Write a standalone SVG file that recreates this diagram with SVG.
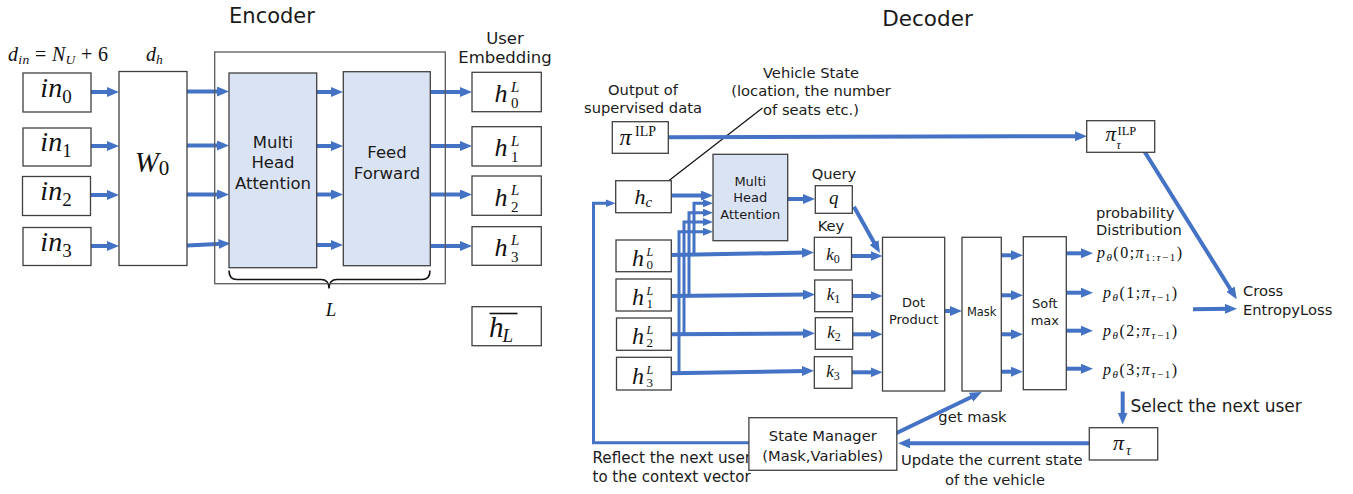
<svg xmlns="http://www.w3.org/2000/svg" width="1353" height="494" viewBox="0 0 1353 494">
  <defs>
    <style>
      .box { fill: #ffffff; stroke: #404040; stroke-width: 1.3; }
      .blk { fill: #dae3f3; stroke: #404040; stroke-width: 1.3; }
      .frame { fill: none; stroke: #5a5a5a; stroke-width: 1.3; }
      .lbl { font-family: "DejaVu Sans", "Noto Sans", sans-serif; font-size: 14.7px; fill: #1a1a1a; }
      .m { font-family: "Liberation Serif", "DejaVu Serif", serif; font-style: italic; fill: #111111; }
      .up { font-style: normal; }
      .c4 { stroke: #4472c4; stroke-width: 4; fill: none; marker-end: url(#ah); }
      .c3 { stroke: #4472c4; stroke-width: 3; fill: none; marker-end: url(#as); }
    </style>
    <!-- arrowhead for the thick connectors: tip lies 8px beyond the line end -->
    <marker id="ah" markerUnits="userSpaceOnUse" markerWidth="12" markerHeight="10" refX="4" refY="5" orient="auto">
      <path d="M0,0 L12,5 L0,10 z" fill="#4472c4"/>
    </marker>
    <!-- arrowhead for the thin connectors: tip lies 7px beyond the line end -->
    <marker id="as" markerUnits="userSpaceOnUse" markerWidth="10" markerHeight="8" refX="3" refY="4" orient="auto">
      <path d="M0,0 L10,4 L0,8 z" fill="#4472c4"/>
    </marker>
  </defs>

  <rect width="1353" height="494" fill="#ffffff"/>

  <!-- free labels -->
  <g id="labels">
    <text class="lbl" x="272" y="23" text-anchor="middle" style="font-size:21px">Encoder</text>
    <text class="lbl" x="927.5" y="25.5" text-anchor="middle" style="font-size:21.5px">Decoder</text>
    <text class="m up" x="8" y="61" font-size="20" textLength="100" lengthAdjust="spacing"><tspan class="m">d</tspan><tspan class="m" font-size="13.5" dy="3">in</tspan><tspan dy="-3"> = </tspan><tspan class="m">N</tspan><tspan class="m" font-size="13.5" dy="3">U</tspan><tspan dy="-3"> + 6</tspan></text>
    <text class="m" x="146" y="61" font-size="20">d<tspan font-size="13.5" dy="3">h</tspan></text>
    <text class="lbl" x="505" y="43.5" text-anchor="middle" style="font-size:16.5px">User</text>
    <text class="lbl" x="505" y="62.5" text-anchor="middle" style="font-size:16.5px">Embedding</text>
    <!-- layer-count brace -->
    <path d="M229,270.5 Q229,279.5 237,279.5 L321,279.5 Q329,279.5 329,288.5 Q329,279.5 337,279.5 L422,279.5 Q430,279.5 430,270.5" fill="none" stroke="#111" stroke-width="1.6"/>
    <text class="m" x="331" y="316" font-size="19" text-anchor="middle">L</text>

    <text class="lbl" x="643" y="94.5" text-anchor="middle">Output of</text>
    <text class="lbl" x="643" y="112.5" text-anchor="middle">supervised data</text>
    <text class="lbl" x="811" y="78" text-anchor="middle">Vehicle State</text>
    <text class="lbl" x="811" y="96" text-anchor="middle">(location, the number</text>
    <text class="lbl" x="811" y="114.5" text-anchor="middle">of seats etc.)</text>
    <line x1="660" y1="187.5" x2="762.5" y2="108" stroke="#111" stroke-width="1.2"/>
    <text class="lbl" x="834" y="179" text-anchor="middle">Query</text>
    <text class="lbl" x="831" y="230.5" text-anchor="middle">Key</text>
    <text class="lbl" x="1096" y="217.5">probability</text>
    <text class="lbl" x="1096" y="235">Distribution</text>
    <text class="lbl" x="1243" y="296">Cross</text>
    <text class="lbl" x="1243" y="314.5">EntropyLoss</text>
    <text class="lbl" x="1130.5" y="411.5" style="font-size:17px">Select the next user</text>
    <text class="lbl" x="972.5" y="421.5" text-anchor="middle">get mask</text>
    <text class="lbl" x="991.7" y="465" text-anchor="middle">Update the current state</text>
    <text class="lbl" x="995" y="484.5" text-anchor="middle">of the vehicle</text>
    <text class="lbl" x="592.5" y="462.5" style="font-size:15.2px">Reflect the next user</text>
    <text class="lbl" x="592.5" y="482" style="font-size:15px">to the context vector</text>

    <!-- probability outputs -->
    <text class="m up" x="1097" y="258" font-size="16" textLength="85" lengthAdjust="spacing"><tspan class="m">p</tspan><tspan class="m" font-size="11" dy="3">θ</tspan><tspan dy="-3">(0;</tspan><tspan class="m">π</tspan><tspan font-size="11" dy="3">1:</tspan><tspan class="m" font-size="11">τ</tspan><tspan font-size="11">−1</tspan><tspan dy="-3">)</tspan></text>
    <text class="m up" x="1103" y="297.5" font-size="16" textLength="74" lengthAdjust="spacing"><tspan class="m">p</tspan><tspan class="m" font-size="11" dy="3">θ</tspan><tspan dy="-3">(1;</tspan><tspan class="m">π</tspan><tspan class="m" font-size="11" dy="3">τ</tspan><tspan font-size="11">−1</tspan><tspan dy="-3">)</tspan></text>
    <text class="m up" x="1103" y="335.5" font-size="16" textLength="74" lengthAdjust="spacing"><tspan class="m">p</tspan><tspan class="m" font-size="11" dy="3">θ</tspan><tspan dy="-3">(2;</tspan><tspan class="m">π</tspan><tspan class="m" font-size="11" dy="3">τ</tspan><tspan font-size="11">−1</tspan><tspan dy="-3">)</tspan></text>
    <text class="m up" x="1103" y="375" font-size="16" textLength="74" lengthAdjust="spacing"><tspan class="m">p</tspan><tspan class="m" font-size="11" dy="3">θ</tspan><tspan dy="-3">(3;</tspan><tspan class="m">π</tspan><tspan class="m" font-size="11" dy="3">τ</tspan><tspan font-size="11">−1</tspan><tspan dy="-3">)</tspan></text>
  </g>

  <!-- connectors -->
  <g id="connectors">
    <!-- encoder: inputs to W0 -->
    <line class="c4" x1="91" y1="92" x2="111" y2="92"/>
    <line class="c4" x1="91" y1="146" x2="111" y2="146"/>
    <line class="c4" x1="91" y1="195" x2="111" y2="195"/>
    <line class="c4" x1="91" y1="246" x2="111" y2="246"/>
    <!-- W0 to attention -->
    <line class="c4" x1="187" y1="91.5" x2="221" y2="91.5"/>
    <line class="c4" x1="187" y1="145.5" x2="221" y2="145.5"/>
    <line class="c4" x1="187" y1="194.5" x2="221" y2="194.5"/>
    <line class="c4" x1="187" y1="245.5" x2="222.5" y2="243.8"/>
    <!-- attention to feed forward -->
    <line class="c4" x1="317" y1="92" x2="335" y2="92"/>
    <line class="c4" x1="317" y1="146" x2="335" y2="146"/>
    <line class="c4" x1="317" y1="194.5" x2="335" y2="194.5"/>
    <line class="c4" x1="317" y1="245" x2="335" y2="245"/>
    <!-- feed forward to embeddings -->
    <line class="c4" x1="430" y1="92" x2="464" y2="92"/>
    <line class="c4" x1="430" y1="146" x2="464" y2="146"/>
    <line class="c4" x1="430" y1="194.5" x2="464" y2="194.5"/>
    <line class="c4" x1="430" y1="246" x2="464" y2="246"/>

    <!-- decoder: supervised target -->
    <line class="c4" x1="668" y1="137.3" x2="1079" y2="136.2"/>
    <line class="c4" x1="1144" y1="150.7" x2="1232.5" y2="292.5"/>
    <line class="c4" x1="1193" y1="309.2" x2="1229" y2="308.8"/>
    <!-- context and query -->
    <line class="c4" x1="671" y1="195.5" x2="705" y2="195.5"/>
    <line class="c4" x1="788" y1="199" x2="807" y2="199"/>
    <line class="c4" x1="854" y1="206.7" x2="876" y2="246"/>
    <!-- embeddings to keys -->
    <line class="c4" x1="671" y1="255" x2="806" y2="252.6"/>
    <line class="c4" x1="671" y1="296" x2="807" y2="294.6"/>
    <line class="c4" x1="671" y1="334.3" x2="807" y2="333.4"/>
    <line class="c4" x1="671" y1="373.3" x2="806" y2="370.9"/>
    <!-- embeddings into decoder attention -->
    <path class="c3" d="M694,255 V203.3 H706"/>
    <path class="c3" d="M689,296 V212.7 H706"/>
    <path class="c3" d="M684,334.3 V222 H706"/>
    <path class="c3" d="M679,373.3 V231.7 H706"/>
    <!-- keys to dot product -->
    <line class="c4" x1="852" y1="256" x2="874.5" y2="256"/>
    <line class="c4" x1="852" y1="296" x2="874.5" y2="296"/>
    <line class="c4" x1="852" y1="334.3" x2="874.5" y2="334.3"/>
    <line class="c4" x1="852" y1="372.3" x2="874.5" y2="372.3"/>
    <line class="c4" x1="945" y1="311" x2="954" y2="311"/>
    <!-- mask to softmax -->
    <line class="c4" x1="1001" y1="255.3" x2="1015" y2="255.3"/>
    <line class="c4" x1="1001" y1="295.3" x2="1015" y2="295.3"/>
    <line class="c4" x1="1001" y1="334.3" x2="1015" y2="334.3"/>
    <line class="c4" x1="1001" y1="371.7" x2="1015" y2="371.7"/>
    <!-- softmax to probabilities -->
    <line class="c4" x1="1066" y1="253.3" x2="1085" y2="253.3"/>
    <line class="c4" x1="1066" y1="292.7" x2="1085" y2="292.7"/>
    <line class="c4" x1="1066" y1="330.7" x2="1085" y2="330.7"/>
    <line class="c4" x1="1066" y1="368.7" x2="1085" y2="368.7"/>
    <!-- selection loop -->
    <line class="c4" x1="1122.7" y1="391.5" x2="1122.7" y2="416.5"/>
    <line class="c4" x1="1089" y1="443.3" x2="906" y2="443.3"/>
    <line class="c4" x1="894" y1="434.3" x2="974.6" y2="395.5"/>
    <path class="c3" d="M749,442.7 H593.5 V203.3 H608.5"/>
  </g>

  <!-- encoder nodes -->
  <g id="in0"><rect class="box" x="23" y="73" width="68" height="39"/>
    <text class="m" x="56" y="97" font-size="28" text-anchor="middle">in<tspan class="up" font-size="19" dy="6">0</tspan></text></g>
  <g id="in1"><rect class="box" x="23" y="128" width="68" height="38"/>
    <text class="m" x="56" y="151" font-size="28" text-anchor="middle">in<tspan class="up" font-size="19" dy="6">1</tspan></text></g>
  <g id="in2"><rect class="box" x="22.5" y="176.5" width="68" height="39"/>
    <text class="m" x="56" y="200" font-size="28" text-anchor="middle">in<tspan class="up" font-size="19" dy="6">2</tspan></text></g>
  <g id="in3"><rect class="box" x="23" y="227.5" width="68" height="38"/>
    <text class="m" x="56" y="251" font-size="28" text-anchor="middle">in<tspan class="up" font-size="19" dy="6">3</tspan></text></g>
  <g id="w0"><rect class="box" x="119" y="71.5" width="68" height="194"/>
    <text class="m" x="152" y="172" font-size="29" text-anchor="middle">W<tspan class="up" font-size="21" dy="3">0</tspan></text></g>

  <g id="encoder-layer">
    <rect class="frame" x="214.7" y="52" width="230.6" height="231.7"/>
    <g id="enc-attention"><rect class="blk" x="229" y="73" width="87.7" height="194.7"/>
      <text class="lbl" x="273" y="148" text-anchor="middle" style="font-size:16.5px">Multi</text>
      <text class="lbl" x="273" y="168" text-anchor="middle" style="font-size:16.5px">Head</text>
      <text class="lbl" x="273" y="188.5" text-anchor="middle" style="font-size:16.5px">Attention</text></g>
    <g id="enc-feedforward"><rect class="blk" x="343.3" y="71.7" width="87" height="194"/>
      <text class="lbl" x="387" y="158" text-anchor="middle" style="font-size:16.5px">Feed</text>
      <text class="lbl" x="387" y="178.5" text-anchor="middle" style="font-size:16.5px">Forward</text></g>
  </g>

  <g id="emb0"><rect class="box" x="472" y="72.3" width="69.3" height="39.4"/>
    <text class="m" x="494.5" y="102" font-size="26">h</text>
    <text class="m" x="511" y="91.5" font-size="15">L</text>
    <text class="m up" x="511" y="108" font-size="15">0</text></g>
  <g id="emb1"><rect class="box" x="472" y="126.7" width="69.3" height="39.3"/>
    <text class="m" x="494.5" y="156" font-size="26">h</text>
    <text class="m" x="511" y="145.5" font-size="15">L</text>
    <text class="m up" x="511" y="162" font-size="15">1</text></g>
  <g id="emb2"><rect class="box" x="472" y="176" width="69.3" height="39.3"/>
    <text class="m" x="494.5" y="205.5" font-size="26">h</text>
    <text class="m" x="511" y="195" font-size="15">L</text>
    <text class="m up" x="511" y="211.5" font-size="15">2</text></g>
  <g id="emb3"><rect class="box" x="472" y="226.7" width="69.3" height="38.6"/>
    <text class="m" x="494.5" y="255.5" font-size="26">h</text>
    <text class="m" x="511" y="245" font-size="15">L</text>
    <text class="m up" x="511" y="261.5" font-size="15">3</text></g>
  <g id="emb-mean"><rect class="box" x="472" y="306.7" width="69.3" height="39"/>
    <text class="m" x="489" y="337" font-size="29">h</text>
    <text class="m" x="502.5" y="341.5" font-size="19">L</text>
    <line x1="489.5" y1="313.5" x2="517.5" y2="313.5" stroke="#111" stroke-width="1.6"/></g>

  <!-- decoder nodes -->
  <g id="pi-ilp"><rect class="box" x="612.3" y="121.7" width="56" height="31.6"/>
    <text class="m" x="619.5" y="144.5" font-size="24">π</text>
    <text class="m up" x="635" y="136" font-size="14">ILP</text></g>
  <g id="pi-tau-ilp"><rect class="box" x="1086.7" y="120.7" width="68" height="31.6"/>
    <text class="m" x="1105.5" y="141" font-size="21">π</text>
    <text class="m up" x="1117.5" y="135" font-size="12.5">ILP</text>
    <text class="m" x="1116.5" y="149" font-size="12">τ</text></g>
  <g id="hc"><rect class="box" x="615.7" y="180.7" width="55.6" height="32"/>
    <text class="m" x="634.5" y="203.5" font-size="22">h</text>
    <text class="m" x="645.5" y="207" font-size="15">c</text></g>
  <g id="dec-attention"><rect class="blk" x="713" y="154.3" width="74.7" height="86.4"/>
    <text class="lbl" x="750.3" y="185.5" text-anchor="middle" style="font-size:13px">Multi</text>
    <text class="lbl" x="750.3" y="202" text-anchor="middle" style="font-size:13px">Head</text>
    <text class="lbl" x="750.3" y="218.5" text-anchor="middle" style="font-size:13px">Attention</text></g>
  <g id="query"><rect class="box" x="815.3" y="185.7" width="37" height="27.6"/>
    <text class="m" x="833.8" y="204" font-size="19" text-anchor="middle">q</text></g>

  <g id="dh0"><rect class="box" x="616" y="240" width="55.3" height="31.7"/>
    <text class="m" x="632" y="266" font-size="24">h</text>
    <text class="m" x="646.5" y="256" font-size="12">L</text>
    <text class="m up" x="646.5" y="269" font-size="13">0</text></g>
  <g id="dh1"><rect class="box" x="616" y="279" width="55.3" height="32"/>
    <text class="m" x="632" y="305" font-size="24">h</text>
    <text class="m" x="646.5" y="295" font-size="12">L</text>
    <text class="m up" x="646.5" y="308" font-size="13">1</text></g>
  <g id="dh2"><rect class="box" x="616.5" y="318" width="54.8" height="32.3"/>
    <text class="m" x="632" y="344" font-size="24">h</text>
    <text class="m" x="646.5" y="334" font-size="12">L</text>
    <text class="m up" x="646.5" y="347" font-size="13">2</text></g>
  <g id="dh3"><rect class="box" x="616.5" y="357.3" width="54.8" height="32.7"/>
    <text class="m" x="632" y="383.5" font-size="24">h</text>
    <text class="m" x="646.5" y="373.5" font-size="12">L</text>
    <text class="m up" x="646.5" y="386.5" font-size="13">3</text></g>

  <g id="k0"><rect class="box" x="814.3" y="237.3" width="37.2" height="32.7"/>
    <text class="m" x="833" y="260" font-size="17" text-anchor="middle">k<tspan class="up" font-size="12" dy="3">0</tspan></text></g>
  <g id="k1"><rect class="box" x="814.7" y="280" width="37.6" height="31.7"/>
    <text class="m" x="833.5" y="300" font-size="17" text-anchor="middle">k<tspan class="up" font-size="12" dy="3">1</tspan></text></g>
  <g id="k2"><rect class="box" x="815.3" y="317.7" width="37.4" height="31.6"/>
    <text class="m" x="834" y="338" font-size="17" text-anchor="middle">k<tspan class="up" font-size="12" dy="3">2</tspan></text></g>
  <g id="k3"><rect class="box" x="814.3" y="356.7" width="37.7" height="31.6"/>
    <text class="m" x="833" y="377" font-size="17" text-anchor="middle">k<tspan class="up" font-size="12" dy="3">3</tspan></text></g>

  <g id="dot-product"><rect class="box" x="882.5" y="237.3" width="62.2" height="153.7"/>
    <text class="lbl" x="913.6" y="307" text-anchor="middle" style="font-size:13px">Dot</text>
    <text class="lbl" x="913.6" y="323.5" text-anchor="middle" style="font-size:13px">Product</text></g>
  <g id="mask"><rect class="box" x="962" y="237.3" width="39.3" height="153.7"/>
    <text class="lbl" x="981.7" y="316" text-anchor="middle" style="font-size:11.5px">Mask</text></g>
  <g id="softmax"><rect class="box" x="1023.3" y="236.7" width="43" height="153"/>
    <text class="lbl" x="1044.8" y="308" text-anchor="middle" style="font-size:13px">Soft</text>
    <text class="lbl" x="1044.8" y="325" text-anchor="middle" style="font-size:13px">max</text></g>

  <g id="pi-tau"><rect class="box" x="1089.3" y="427.7" width="68.4" height="32.3"/>
    <text class="m" x="1113" y="450" font-size="22">π</text>
    <text class="m" x="1126" y="455" font-size="14">τ</text></g>
  <g id="state-manager"><rect class="box" x="748.9" y="417.7" width="147.9" height="52.6"/>
    <text class="lbl" x="822.8" y="441" text-anchor="middle">State Manager</text>
    <text class="lbl" x="822.8" y="461" text-anchor="middle">(Mask,Variables)</text></g>
</svg>
